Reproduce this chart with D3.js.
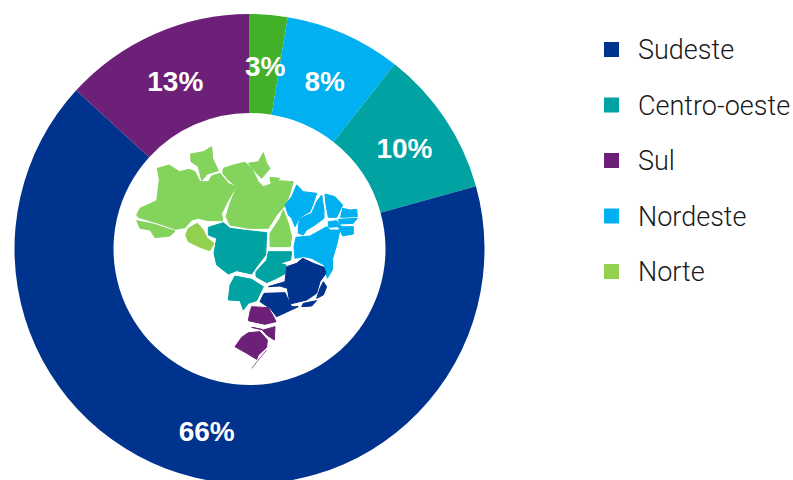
<!DOCTYPE html>
<html>
<head>
<meta charset="utf-8">
<style>
  html, body { margin: 0; padding: 0; background: #fff; }
  svg { display: block; }
</style>
</head>
<body>
<svg id="chart" width="793" height="480"></svg>
<script src="https://cdn.jsdelivr.net/npm/d3@7"></script>
<script>
// pie order runs clockwise from 12 o'clock
const sliceRegions = ['Norte', 'Nordeste', 'Centro-oeste', 'Sudeste', 'Sul'];
const sliceValues = [2.6, 8, 10.1, 66.1, 13.2];
const sliceColors = ['#43b02a', '#00b0f0', '#00a3a1', '#00338d', '#6d2077'];

const legendRegions = ['Sudeste', 'Centro-oeste', 'Sul', 'Nordeste', 'Norte'];
const legendColors = ['#00338d', '#00a3a1', '#6d2077', '#00b0f0', '#92d050'];

// map outlines, in a 750x750 drawing space
const mapNorte = [
  [[60,235],[110,212],[118,150],[112,115],[148,105],[178,125],[208,118],[225,125],[240,155],[265,155],[275,138],[300,130],[325,160],[348,170],[320,220],[305,250],[308,272],[265,272],[235,265],[215,270],[195,293],[165,298],[130,285],[55,262],[50,255]],
  [[212,72],[250,65],[275,50],[278,85],[295,122],[262,132],[245,152],[235,110],[213,95]],
  [[50,272],[100,282],[165,303],[150,318],[105,323],[90,300],[60,295]],
  [[310,115],[340,105],[375,97],[395,115],[415,155],[430,170],[445,165],[475,152],[520,155],[510,190],[497,225],[470,255],[445,295],[385,295],[330,285],[318,260],[330,220],[350,170],[325,150],[308,130]],
  [[385,100],[415,95],[430,68],[440,100],[450,115],[425,145],[405,125]],
  [[450,142],[480,145],[470,155],[452,158]],
  [[490,240],[505,280],[515,320],[510,350],[450,350],[450,310],[480,265]]
];
const mapRondonia = [[232,280],[250,300],[262,325],[282,340],[270,362],[240,352],[205,335],[197,315],[205,295]];
const mapNordeste = [
  [[530,165],[550,185],[590,190],[578,225],[570,245],[540,262],[525,290],[515,265],[505,255],[495,225],[515,200]],
  [[605,195],[612,240],[612,265],[585,285],[560,300],[550,315],[535,310],[535,285],[540,265],[575,250],[590,215]],
  [[615,192],[645,200],[668,225],[650,262],[625,262],[618,225]],
  [[668,235],[690,240],[710,238],[712,260],[662,262]],
  [[655,268],[712,265],[700,280],[660,282]],
  [[625,275],[650,272],[665,290],[700,290],[700,312],[668,318],[655,290],[625,292]],
  [[620,290],[630,300],[660,300],[650,345],[638,385],[637,420],[622,445],[612,405],[575,385],[550,380],[525,385],[522,350],[528,322],[570,318]]
];
const mapCentro = [
  [[445,365],[515,365],[512,390],[480,400],[498,405],[497,430],[470,445],[440,458],[408,440],[408,425],[440,390]],
  [[265,292],[310,278],[330,295],[385,302],[440,308],[437,375],[410,410],[395,432],[350,422],[325,432],[290,405],[282,370],[290,325],[265,315]],
  [[345,438],[395,448],[430,470],[410,512],[385,520],[370,540],[360,512],[325,510],[330,465]]
];
const mapSudeste = [
  [[548,385],[580,400],[612,412],[618,430],[600,455],[590,490],[560,510],[510,522],[502,475],[480,468],[445,470],[495,455],[500,410],[530,400]],
  [[432,490],[495,488],[515,530],[535,530],[470,560],[450,535],[420,515]],
  [[610,455],[620,470],[610,495],[590,505],[600,475]],
  [[590,512],[575,528],[545,530],[550,520]]
];
const mapSul = [
  [[395,530],[445,533],[458,555],[468,575],[435,583],[385,572],[390,545]],
  [[395,592],[430,600],[465,590],[463,630],[440,615],[425,598]],
  [[385,608],[420,605],[442,630],[440,652],[415,675],[410,688],[380,670],[345,650],[365,622]]
];
const mapLagoa = [[395,715],[415,690],[440,660]];

const svg = d3.select('#chart');
const cx = 249.5, cy = 249, outerR = 235, innerR = 136;

const pie = d3.pie().sort(null).value(d => d.value);
const arc = d3.arc().innerRadius(innerR).outerRadius(outerR);
const labelFmt = d3.format('.0f');

const sliceData = sliceRegions.map((r, i) => ({ region: r, value: sliceValues[i], color: sliceColors[i] }));
const donut = svg.append('g').attr('transform', `translate(${cx},${cy})`);

donut.selectAll('path')
  .data(pie(sliceData))
  .join('path')
  .attr('d', arc)
  .attr('fill', d => d.data.color);

donut.selectAll('text')
  .data(pie(sliceData))
  .join('text')
  .attr('x', d => arc.centroid(d)[0] + 0.5)
  .attr('y', d => arc.centroid(d)[1] + 2)
  .attr('dy', '0.35em')
  .attr('text-anchor', 'middle')
  .attr('font-family', '"Liberation Sans", Arial, sans-serif')
  .attr('font-weight', 700)
  .attr('font-size', 28)
  .attr('fill', '#fff')
  .text(d => labelFmt(d.data.value) + '%');

// Map inside the hole
const mapX = d3.scaleLinear().domain([0, 750]).range([120, 370]);
const mapY = d3.scaleLinear().domain([0, 750]).range([130, 380]);
const outline = d3.line().x(d => mapX(d[0])).y(d => mapY(d[1])).curve(d3.curveLinearClosed);

const mapLayers = [
  { shapes: mapNorte, color: '#83d35c' },
  { shapes: [mapRondonia], color: '#92d050' },
  { shapes: mapNordeste, color: '#00b0f0' },
  { shapes: mapCentro, color: '#00a3a1' },
  { shapes: mapSudeste, color: '#00338d' },
  { shapes: mapSul, color: '#6d2077' }
];
const map = svg.append('g');
mapLayers.forEach(layer => {
  map.append('g').selectAll('path')
    .data(layer.shapes)
    .join('path')
    .attr('d', outline)
    .attr('fill', layer.color)
    .attr('stroke', layer.color)
    .attr('stroke-width', 1)
    .attr('stroke-linejoin', 'round');
});
map.append('path')
  .attr('d', d3.line().x(d => mapX(d[0])).y(d => mapY(d[1])).curve(d3.curveLinear)(mapLagoa))
  .attr('fill', 'none')
  .attr('stroke', '#6d2077')
  .attr('stroke-width', 0.7);

// Legend
const legendY = d3.scalePoint().domain(legendRegions).range([50, 272]);
const legend = svg.append('g');
const items = legend.selectAll('g')
  .data(legendRegions)
  .join('g')
  .attr('transform', d => `translate(604,${legendY(d)})`);

items.append('rect')
  .attr('y', -8)
  .attr('width', 15)
  .attr('height', 15)
  .attr('fill', (d, i) => legendColors[i]);

items.append('text')
  .attr('x', 34)
  .attr('dy', '0.35em')
  .attr('font-family', 'Roboto, "Liberation Sans", Arial, sans-serif')
  .attr('font-weight', 300)
  .attr('font-size', 27)
  .attr('fill', '#1a1a1a')
  .text(d => d);
</script>
</body>
</html>
